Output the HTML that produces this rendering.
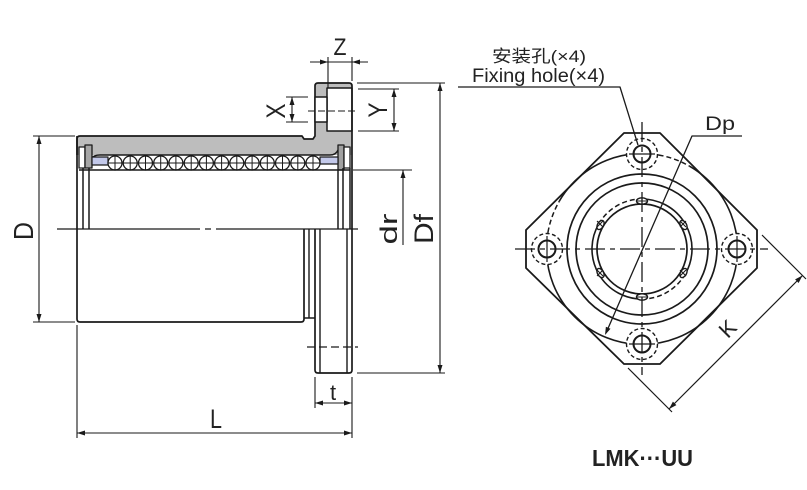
<!DOCTYPE html>
<html>
<head>
<meta charset="utf-8">
<style>
  html,body{margin:0;padding:0;background:#fff;}
  svg{display:block;}
  text{font-family:"Liberation Sans","Noto Sans CJK SC",sans-serif;fill:#222;}
</style>
</head>
<body>
<svg width="807" height="490" viewBox="0 0 807 490" xmlns="http://www.w3.org/2000/svg">
<rect width="807" height="490" fill="#fff"/>

<!-- ================= LEFT VIEW ================= -->
<g stroke="#1a1a1a" fill="none" stroke-linejoin="round">
  <!-- gray section (housing + flange) -->
  <path d="M77,155 L77,139 Q77,136 80,136 L302,136 L304,139 L313,139 L315,136 L315,86 Q315,83 318,83 L349,83 Q352,83 352,86 L352,155 Z" fill="#bdbdbd" stroke="none"/>
  <path d="M77,155 L77,139 Q77,136 80,136 L302,136 L304,139 L313,139 L315,136 L315,86 Q315,83 318,83 L349,83 Q352,83 352,86" stroke-width="1.7"/>
  <path d="M92,158 Q94,155 100,155 L330,155 Q336,155 338,150" stroke-width="1.5"/>
  <!-- counterbore & through hole -->
  <rect x="327" y="88" width="25" height="43" fill="#fff" stroke-width="1.5"/>
  <rect x="315" y="97" width="12" height="25" fill="#fff" stroke-width="1.5"/>

  <!-- seals / ends -->
  <rect x="79" y="147" width="6" height="21" fill="#fff" stroke-width="1.3"/>
  <rect x="85" y="145" width="7" height="23" fill="#a6a6a6" stroke-width="1.3"/>
  <rect x="338" y="145" width="6" height="25" fill="#a0a0a0" stroke-width="1.3"/>
  <rect x="344" y="147" width="6" height="21" fill="#fff" stroke-width="1.3"/>
  <!-- retainers -->
  <rect x="92" y="157" width="16" height="8" fill="#c3c9ea" stroke-width="1.2"/>
  <rect x="320" y="157" width="18" height="7" fill="#c3c9ea" stroke-width="1.2"/>

  <!-- balls -->
  <g fill="#fff" stroke-width="1.3">
    <circle cx="115" cy="163" r="7"/><circle cx="130.2" cy="163" r="7"/><circle cx="145.5" cy="163" r="7"/>
    <circle cx="160.7" cy="163" r="7"/><circle cx="175.9" cy="163" r="7"/><circle cx="191.2" cy="163" r="7"/>
    <circle cx="206.4" cy="163" r="7"/><circle cx="221.6" cy="163" r="7"/><circle cx="236.8" cy="163" r="7"/>
    <circle cx="252.1" cy="163" r="7"/><circle cx="267.3" cy="163" r="7"/><circle cx="282.5" cy="163" r="7"/>
    <circle cx="297.8" cy="163" r="7"/><circle cx="313" cy="163" r="7"/>
  </g>
  <path stroke-width="1" d="M108,163H320
    M115,156V170 M130.2,156V170 M145.5,156V170 M160.7,156V170 M175.9,156V170 M191.2,156V170 M206.4,156V170
    M221.6,156V170 M236.8,156V170 M252.1,156V170 M267.3,156V170 M282.5,156V170 M297.8,156V170 M313,156V170"/>

  <!-- shaft line -->
  <line x1="79" y1="170" x2="350" y2="170" stroke-width="1.5"/>

  <!-- upper interior vertical lines -->
  <path stroke-width="1.5" d="M83,168V229 M89,168V229 M338,170V229 M343,168V229 M350,168V229"/>
  <!-- outer left edge -->
  <path stroke-width="1.7" d="M77,136V319 Q77,322 80,322 L301,322 Q304,322 304,319 L304,229"/>
  <!-- outer right flange edge -->
  <path stroke-width="1.7" d="M352,86V370 Q352,373 349,373 L318,373 Q315,373 315,370 L315,229"/>
  <!-- lower details -->
  <path stroke-width="1.4" d="M309,229V318 M304,318H315 M320,229V373 M347,229V373"/>
  <line x1="307" y1="347" x2="358" y2="347" stroke-width="1.3" stroke-dasharray="8 4"/>

  <!-- centerline -->
  <path stroke-width="1.3" d="M57,229H200 M205,229H211 M216,229H358"/>
  <!-- hole centerline -->
  <line x1="308" y1="111" x2="358" y2="111" stroke-width="1.1" stroke-dasharray="7 3"/>
</g>

<!-- dimensions left view -->
<g stroke="#1a1a1a" stroke-width="1.1" fill="none">
  <!-- D -->
  <path d="M33,136H75 M33,322H75 M39,136V322"/>
  <!-- L -->
  <path d="M77,325V438 M352,377V438 M77,433H352"/>
  <!-- t -->
  <path d="M315,377V408 M315,403H352"/>
  <!-- Z -->
  <path d="M328,57V88 M352,57V81 M310,62H368"/>
  <!-- X -->
  <path d="M286,97H308 M286,122H308 M292,97V122"/>
  <!-- Y -->
  <path d="M358,89H399 M358,131H399 M394,89V131"/>
  <!-- dr -->
  <path d="M353,170H412 M403,170V245"/>
  <!-- Df -->
  <path d="M357,83H445 M357,373H445 M440,83V373"/>
</g>
<g fill="#1a1a1a" stroke="none">
  <polygon points="39,136 36.5,144 41.5,144"/>
  <polygon points="39,322 36.5,314 41.5,314"/>
  <polygon points="77,433 85,430.5 85,435.5"/>
  <polygon points="352,433 344,430.5 344,435.5"/>
  <polygon points="315,403 323,400.5 323,405.5"/>
  <polygon points="352,403 344,400.5 344,405.5"/>
  <polygon points="328,62 320,59.5 320,64.5"/>
  <polygon points="352,62 360,59.5 360,64.5"/>
  <polygon points="292,97 289.5,105 294.5,105"/>
  <polygon points="292,122 289.5,114 294.5,114"/>
  <polygon points="394,89 391.5,97 396.5,97"/>
  <polygon points="394,131 391.5,123 396.5,123"/>
  <polygon points="403,170 400.5,178 405.5,178"/>
  <polygon points="440,83 437.5,91 442.5,91"/>
  <polygon points="440,373 437.5,365 442.5,365"/>
</g>
<!-- left labels -->
<text transform="translate(33,231) rotate(-90)" text-anchor="middle" font-size="28" textLength="18" lengthAdjust="spacingAndGlyphs">D</text>
<text x="216" y="428" text-anchor="middle" font-size="27" textLength="12" lengthAdjust="spacingAndGlyphs">L</text>
<text x="333" y="400" text-anchor="middle" font-size="22">t</text>
<text x="340" y="55" text-anchor="middle" font-size="24" textLength="13" lengthAdjust="spacingAndGlyphs">Z</text>
<text transform="translate(285,111) rotate(-90)" text-anchor="middle" font-size="27" textLength="15" lengthAdjust="spacingAndGlyphs">X</text>
<text transform="translate(387,110) rotate(-90)" text-anchor="middle" font-size="27" textLength="15" lengthAdjust="spacingAndGlyphs">Y</text>
<text transform="translate(397,229) rotate(-90)" text-anchor="middle" font-size="24" textLength="31" lengthAdjust="spacingAndGlyphs">dr</text>
<text transform="translate(433,229) rotate(-90)" text-anchor="middle" font-size="27" textLength="30" lengthAdjust="spacingAndGlyphs">Df</text>

<!-- ================= RIGHT VIEW ================= -->
<g stroke="#1a1a1a" fill="none" stroke-linejoin="round">
  <!-- flange octagon -->
  <polygon points="624,133 660,133 757,230 757,268 660,364 624,364 526,268 526,230" stroke-width="1.8" fill="#fff"/>
  <!-- pitch circle -->
  <circle cx="642" cy="249" r="95.5" stroke-width="1.6"/>
  <path d="M547.95,232.4 A95.5,95.5 0 0 1 559.3,201.25 M658.6,154.95 A95.5,95.5 0 0 1 689.75,166.3" stroke="#fff" stroke-width="3.5"/>
  <path d="M547.95,232.4 A95.5,95.5 0 0 1 559.3,201.25 M658.6,154.95 A95.5,95.5 0 0 1 689.75,166.3" stroke-width="1.5" stroke-dasharray="5 3"/>
  <!-- concentric circles -->
  <circle cx="642" cy="249" r="75" stroke-width="1.7"/>
  <circle cx="642" cy="249" r="66" stroke-width="1.7"/>
  <circle cx="642" cy="249" r="45" stroke-width="1.7"/>
  <path d="M642,199 A50,50 0 0 1 685.3,274 M642,299 A50,50 0 0 1 598.7,224" stroke-width="1.6"/>
  <path d="M685.3,274 A50,50 0 0 1 642,299 M598.7,224 A50,50 0 0 1 642,199" stroke-width="1.5" stroke-dasharray="5 3"/>
  <!-- notches -->
  <g fill="#fff" stroke-width="1.4">
    <ellipse cx="642" cy="201" rx="5.5" ry="3.2"/>
    <ellipse cx="642" cy="297" rx="5.5" ry="3.2"/>
    <ellipse cx="600.5" cy="225" rx="5" ry="3" transform="rotate(-60 600.5 225)"/>
    <ellipse cx="683.5" cy="225" rx="5" ry="3" transform="rotate(60 683.5 225)"/>
    <ellipse cx="600.5" cy="273" rx="5" ry="3" transform="rotate(60 600.5 273)"/>
    <ellipse cx="683.5" cy="273" rx="5" ry="3" transform="rotate(-60 683.5 273)"/>
  </g>
  <path stroke-width="1.1" d="M636,201H648 M636,297H648
    M597,221L603,227 M597,227L603,221 M680,221L686,227 M680,227L686,221
    M597,270L603,276 M597,276L603,270 M680,270L686,276 M680,276L686,270"/>

  <!-- holes -->
  <g fill="#fff">
    <circle cx="642" cy="154" r="15.5" stroke-width="1.4" stroke-dasharray="4 2.5"/>
    <circle cx="547" cy="249" r="15.5" stroke-width="1.4" stroke-dasharray="4 2.5"/>
    <circle cx="737" cy="249" r="15.5" stroke-width="1.4" stroke-dasharray="4 2.5"/>
    <circle cx="642" cy="344" r="15.5" stroke-width="1.4" stroke-dasharray="4 2.5"/>
  </g>
  <g stroke-width="2">
    <circle cx="642" cy="154" r="8.5"/>
    <circle cx="547" cy="249" r="8.5"/>
    <circle cx="737" cy="249" r="8.5"/>
    <circle cx="642" cy="344" r="8.5"/>
  </g>
  <!-- hole cross lines -->
  <path stroke-width="1.2" d="M629,154H655 M629,344H655 M547,236V262 M737,236V262"/>
  <!-- main centerlines -->
  <line x1="515" y1="249" x2="768" y2="249" stroke-width="1.3" stroke-dasharray="20 5 5 5"/>
  <line x1="642" y1="122" x2="642" y2="375" stroke-width="1.3" stroke-dasharray="20 5 5 5"/>

  <!-- fixing hole leader -->
  <path d="M458,87H620 L638,145" stroke-width="1.3"/>
  <!-- Dp leader -->
  <path d="M742,136H692 L606,333" stroke-width="1.3"/>

  <!-- K dimension -->
  <path d="M762,235L806,279 M628,368L672,412 M802.5,275.5L669,409" stroke-width="1.2"/>
</g>
<g fill="#1a1a1a">
  <polygon points="605,335 610.5,328.7 605.9,326.7"/>
  <polygon points="802.5,275.5 798.6,283 795.1,279.4"/>
  <polygon points="669,409 676.4,405.1 672.9,401.6"/>
</g>

<!-- right labels -->
<text x="492" y="62" font-size="17" textLength="94" lengthAdjust="spacingAndGlyphs">安装孔(×4)</text>
<text x="472" y="82" font-size="19" textLength="133" lengthAdjust="spacingAndGlyphs">Fixing hole(×4)</text>
<text x="705" y="130" font-size="19" textLength="30" lengthAdjust="spacingAndGlyphs">Dp</text>
<text transform="translate(733,334) rotate(-45)" text-anchor="middle" font-size="22">K</text>
<text x="592" y="466" font-size="23" font-weight="bold" textLength="101" lengthAdjust="spacingAndGlyphs">LMK···UU</text>
</svg>
</body>
</html>
